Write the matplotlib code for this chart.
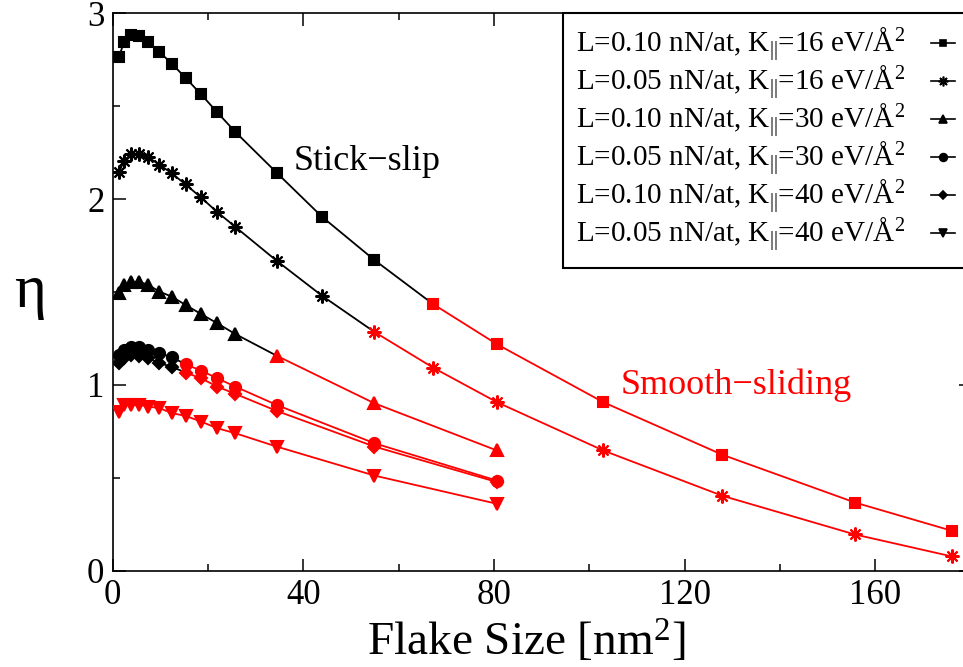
import matplotlib
matplotlib.use('Agg')
import matplotlib.pyplot as plt
from matplotlib.ticker import MultipleLocator
from matplotlib.lines import Line2D

plt.rcParams['font.family'] = ['Liberation Serif', 'DejaVu Serif']
plt.rcParams['mathtext.fontset'] = 'custom'
plt.rcParams['mathtext.rm'] = 'Liberation Serif'
plt.rcParams['mathtext.it'] = 'Liberation Serif:italic'
plt.rcParams['mathtext.bf'] = 'Liberation Serif:bold'

# ---- data ----
flake_size_long = [1.32, 2.37, 3.84, 5.6, 7.49, 9.8, 12.4, 15.3, 18.5, 21.9, 25.7,
                   34.4, 43.9, 54.9, 67.2, 80.6, 102.9, 127.9, 155.7, 176.0]
flake_size_short = [1.32, 2.37, 3.84, 5.6, 7.49, 9.8, 12.4, 15.3, 18.5, 21.9, 25.7,
                    34.4, 54.9, 80.6]

eta_L010_K16 = [2.765, 2.846, 2.882, 2.878, 2.846, 2.792, 2.729, 2.652, 2.565, 2.468,
                2.362, 2.142, 1.905, 1.672, 1.435, 1.219, 0.907, 0.624, 0.367, 0.215]
eta_L005_K16 = [2.144, 2.206, 2.242, 2.242, 2.224, 2.186, 2.138, 2.079, 2.009, 1.931,
                1.851, 1.668, 1.480, 1.285, 1.093, 0.907, 0.647, 0.403, 0.195, 0.077]
eta_L010_K30 = [1.493, 1.538, 1.555, 1.555, 1.538, 1.502, 1.475, 1.430, 1.382, 1.332,
                1.274, 1.157, 0.901, 0.647]
eta_L005_K30 = [1.161, 1.188, 1.203, 1.206, 1.188, 1.170, 1.149, 1.111, 1.077, 1.036,
                0.991, 0.892, 0.686, 0.485]
eta_L010_K40 = [1.117, 1.144, 1.161, 1.156, 1.144, 1.117, 1.098, 1.066, 1.036, 0.991,
                0.952, 0.860, 0.668, 0.477]
eta_L005_K40 = [0.856, 0.892, 0.892, 0.892, 0.883, 0.875, 0.848, 0.833, 0.803, 0.767,
                0.740, 0.668, 0.512, 0.360]

# index of first smooth-sliding (red) point in each series
first_smooth = [14, 13, 11, 7, 7, 0]

labels = [
    r"L=0.10 nN/at, K$_{||}$=16 eV/Å$^{2}$",
    r"L=0.05 nN/at, K$_{||}$=16 eV/Å$^{2}$",
    r"L=0.10 nN/at, K$_{||}$=30 eV/Å$^{2}$",
    r"L=0.05 nN/at, K$_{||}$=30 eV/Å$^{2}$",
    r"L=0.10 nN/at, K$_{||}$=40 eV/Å$^{2}$",
    r"L=0.05 nN/at, K$_{||}$=40 eV/Å$^{2}$",
]

series = [
    (flake_size_long, eta_L010_K16),
    (flake_size_long, eta_L005_K16),
    (flake_size_short, eta_L010_K30),
    (flake_size_short, eta_L005_K30),
    (flake_size_short, eta_L010_K40),
    (flake_size_short, eta_L005_K40),
]
markers = ['s', (8, 2, 0), '^', 'o', 'D', 'v']
msizes = [7, 10, 9, 8, 6.5, 9]
RED = '#ff0000'

fig = plt.figure(figsize=(9.63, 6.67), dpi=100)
ax = fig.add_axes([112.7 / 963, (667 - 570.7) / 667, (970.8 - 112.7) / 963, (570.7 - 13.3) / 667])

for (x, y), m, ms, k in zip(series, markers, msizes, first_smooth):
    if k > 0:
        ax.plot(x[:k + 1], y[:k + 1], color='black', lw=1.3, zorder=2)
        ax.plot(x[:k], y[:k], ls='none', marker=m, ms=ms, color='black',
                mec='black', mew=1.5, zorder=3)
    ax.plot(x[k:], y[k:], color=RED, lw=1.3, marker=m, ms=ms, mec=RED,
            mew=1.5, zorder=4)

ax.set_xlim(0, 180)
ax.set_ylim(0, 3)
ax.set_xticks([0, 40, 80, 120, 160])
ax.xaxis.set_minor_locator(MultipleLocator(20))
ax.set_yticks([0, 1, 2, 3])
ax.yaxis.set_minor_locator(MultipleLocator(0.5))
ax.tick_params(which='both', direction='in', top=True, right=True, width=1.1)
ax.tick_params(which='major', length=9, labelsize=25, pad=6)
ax.tick_params(which='minor', length=5)
for s in ax.spines.values():
    s.set_linewidth(1.2)

ax.set_xlabel("Flake Size [nm$^{2}$]", fontsize=34)
ax.xaxis.set_label_coords(0.4817, -0.128)
ax.xaxis.label.set_va('center')
ax.set_ylabel("η", fontsize=44, rotation=0, va='center', ha='center')
ax.yaxis.set_label_coords(-0.0964, 0.50)

ax.text(53.3, 2.20, "Stick−slip", fontsize=26, ha='center', va='center', color='black')
ax.text(130.8, 1.0, "Smooth−sliding", fontsize=26, ha='center', va='center', color=RED)

handles = [Line2D([], [], color='black', lw=1.2, marker=m, ms=ms * 0.7, mew=1.2)
           for m, ms in zip(markers, msizes)]
leg = fig.legend(handles, labels, loc='upper left',
                 bbox_to_anchor=(563 / 963, 1 - 13.3 / 667), bbox_transform=fig.transFigure,
                 fontsize=21, markerfirst=False, handlelength=0.8, handletextpad=0.9,
                 labelspacing=0.0, borderpad=0.45, fancybox=False, framealpha=1,
                 edgecolor='black', borderaxespad=0)
leg.get_frame().set_linewidth(1.5)

fig.savefig('out.png', dpi=100)
